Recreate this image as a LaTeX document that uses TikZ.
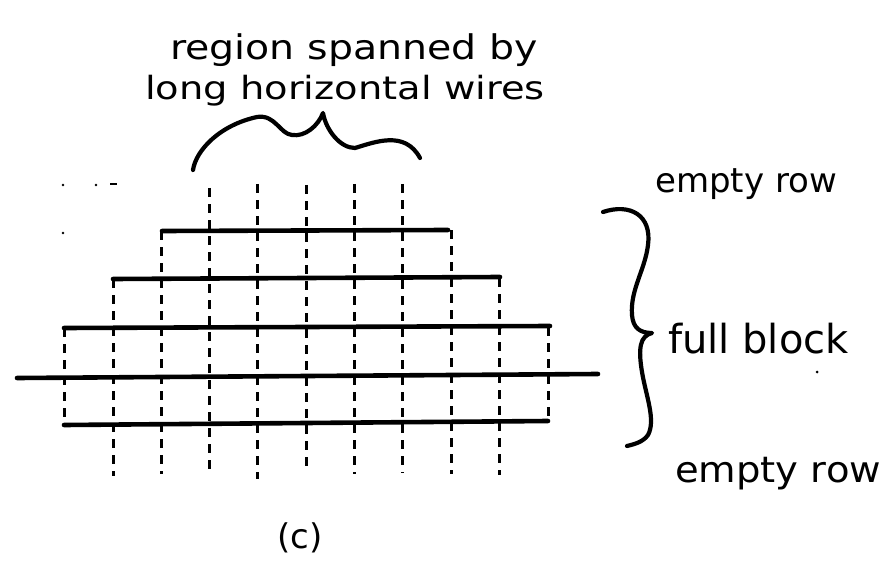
\documentclass[tikz,border=0pt]{standalone}
\usepackage{fontspec}
\setmainfont{DejaVu Sans}
\begin{document}
\begin{tikzpicture}[x=1pt,y=-1pt,
  wire/.style={line width=4.6pt, line cap=round},
  vdash/.style={line width=3pt, dash pattern=on 9pt off 7pt},
  brace/.style={line width=4.2pt, line cap=round, line join=round},
  hand/.style={inner sep=0pt, anchor=base west},
  speck/.style={fill=black}]
\useasboundingbox (0,0) rectangle (896,564);

% vertical dashed wires
\foreach \i/\x/\t/\b in {0/64/328/424, 1/113/279/476, 2/161/231/474, 3/209/188/469,
                          4/257/184/479, 5/306/185/473, 6/354/184/474, 7/402/184/473,
                          8/451/230/474, 9/499/278/475, 10/548/327/422}{
  \coordinate (vt\i) at (\x,\t);
  \coordinate (vb\i) at (\x,\b);
  \draw[vdash] (vt\i) -- (vb\i);
}

% horizontal wires
\coordinate (h0l) at (162,231); \coordinate (h0r) at (448,230);
\coordinate (h1l) at (113,279); \coordinate (h1r) at (500,277);
\coordinate (h2l) at (64,328);  \coordinate (h2r) at (550,326);
\coordinate (h3l) at (17,378);  \coordinate (h3r) at (598,374);
\coordinate (h4l) at (64,425);  \coordinate (h4r) at (548,421);
\foreach \k in {0,1,2,3,4}{ \draw[wire] (h\k l) -- (h\k r); }

% top brace
\coordinate (tbL) at (193,170);
\coordinate (tbP) at (323,113);
\coordinate (tbR) at (420,158);
\draw[brace] (tbL) .. controls (196,150) and (220,125) .. (257,117)
  .. controls (275,114) and (280,134) .. (292,135)
  .. controls (305,137) and (318,126) .. (tbP)
  .. controls (326,130) and (340,148) .. (355,148)
  .. controls (375,142) and (405,130) .. (tbR);

% right brace
\coordinate (rbT) at (603,212);
\coordinate (rbC) at (652,333);
\coordinate (rbB) at (627,446);
\draw[brace] (rbT) .. controls (630,203) and (652,215) .. (648,245)
  .. controls (645,270) and (630,290) .. (632,315)
  .. controls (633,328) and (640,333) .. (rbC)
  .. controls (640,336) and (638,348) .. (642,372)
  .. controls (646,396) and (656,420) .. (648,435)
  .. controls (643,442) and (635,444) .. (rbB);

% specks
\fill[speck] (63,185) circle (1.4);
\fill[speck] (96,185) circle (1.4);
\draw[line width=2.4pt] (110,184) -- (117,184);
\fill[speck] (63,233) circle (1.4);
\fill[speck] (817,372) circle (1.5);

% texts
\node[hand, font=\fontsize{34}{40}\selectfont] (t1) at (170,60) {\scalebox{1.16}[1]{region spanned by}};
\node[hand, font=\fontsize{32}{38}\selectfont] (t2) at (145,100) {\scalebox{1.2}[1]{long horizontal wires}};
\node[hand, font=\fontsize{34}{40}\selectfont] (t3) at (655,193) {empty row};
\node[hand, font=\fontsize{40}{46}\selectfont] (t4) at (668,353) {full block};
\node[hand, font=\fontsize{36}{42}\selectfont] (t5) at (675,482) {\scalebox{1.07}[1]{empty row}};
\node[hand, font=\fontsize{34}{40}\selectfont] (t6) at (277,548) {(c)};
\end{tikzpicture}
\end{document}
